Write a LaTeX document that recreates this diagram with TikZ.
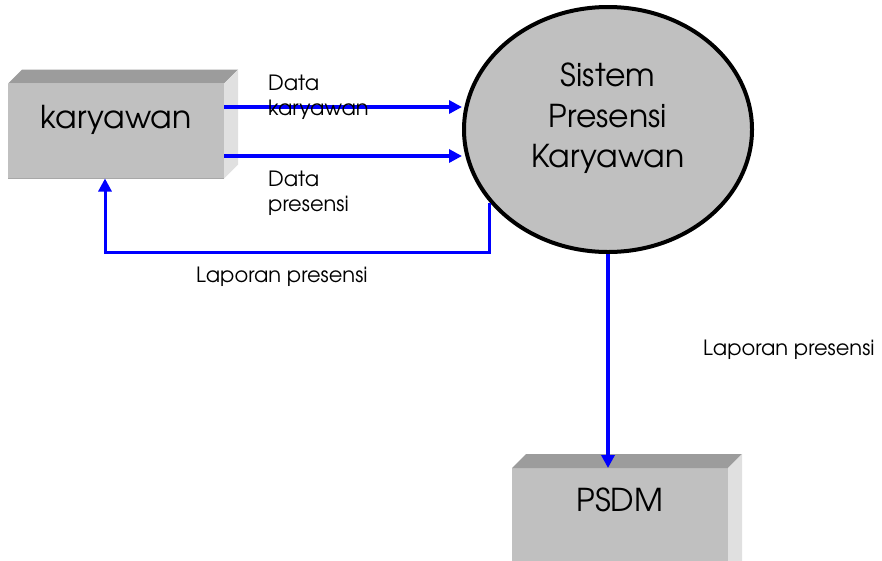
\documentclass[tikz,border=0pt]{standalone}
\usepackage{fontspec}
\setmainfont{TeX Gyre Adventor}
\usetikzlibrary{arrows.meta,shapes.geometric,calc}
\definecolor{frontgray}{HTML}{C0C0C0}
\definecolor{topgray}{HTML}{9C9C9C}
\definecolor{sidegray}{HTML}{E0E0E0}
\definecolor{edgegray}{HTML}{A8A8A8}
\definecolor{flowblue}{HTML}{0000FF}
\begin{document}
\begin{tikzpicture}[x=1pt,y=-1pt,
  ent/.style={rectangle, fill=frontgray, minimum width=216pt, minimum height=95pt, inner sep=0pt, outer sep=0pt},
  bigtxt/.style={font=\fontsize{31.5}{36}\selectfont, inner sep=0pt, anchor=base},
  lbl/.style={font=\fontsize{21}{25}\selectfont, inner sep=0pt, anchor=base west},
  flow/.style={draw=flowblue, line width=3.5pt, -{Triangle[length=13pt,width=13pt]}},
  topface/.style={fill=topgray},
  sideface/.style={fill=sidegray}]
\useasboundingbox (0,0) rectangle (882,560);
\clip (0,0) rectangle (882,560);

% karyawan entity
\node[ent] (k) at (116,131) {};
\fill[topface] (k.north west) -- ++(14,-14) -- ($(k.north east)+(14,-14)$) -- (k.north east) -- cycle;
\fill[sideface] (k.north east) -- ++(14,-14) -- ($(k.south east)+(14,-14)$) -- (k.south east) -- cycle;
\draw[edgegray, line width=1.5pt] (k.south west) -- (k.south east);
\node[bigtxt] (kt) at (116,128) {karyawan};

% PSDM entity
\node[ent, minimum height=130pt] (p) at (620,533) {};
\fill[topface] (p.north west) -- ++(14,-14) -- ($(p.north east)+(14,-14)$) -- (p.north east) -- cycle;
\fill[sideface] (p.north east) -- ++(14,-14) -- ($(p.south east)+(14,-14)$) -- (p.south east) -- cycle;
\node[bigtxt] (pt) at (620,511) {PSDM};

% process
\node[ellipse, draw=black, line width=4pt, fill=frontgray, minimum width=288pt, minimum height=245pt, inner sep=0pt] (s) at (608,129.5) {};
\node[bigtxt] (s1) at (608,86) {Sistem};
\node[bigtxt] (s2) at (608,127) {Presensi};
\node[bigtxt] (s3) at (608,167) {Karyawan};

% flows
\draw[flow] (k.east |- 0,107) -- (s.west |- 0,107);
\draw[flow] (k.east |- 0,156) -- (s.west |- 0,156);
\coordinate (c3) at (489,203);
\draw[flow, line width=3pt] (c3) -- (489,252) -- (105,252) -- (k.south -| 105,0);
\draw[flow] (s.south) -- (s.south |- p.north);

% labels
\node[lbl] (l1a) at (268,90) {Data};
\node[lbl] (l1b) at (268,115) {karyawan};
\node[lbl] (l2a) at (268,186) {Data};
\node[lbl] (l2b) at (268,211) {presensi};
\node[lbl] (l3) at (196,282) {Laporan presensi};
\node[lbl] (l4) at (703,355) {Laporan presensi};
\end{tikzpicture}
\end{document}
